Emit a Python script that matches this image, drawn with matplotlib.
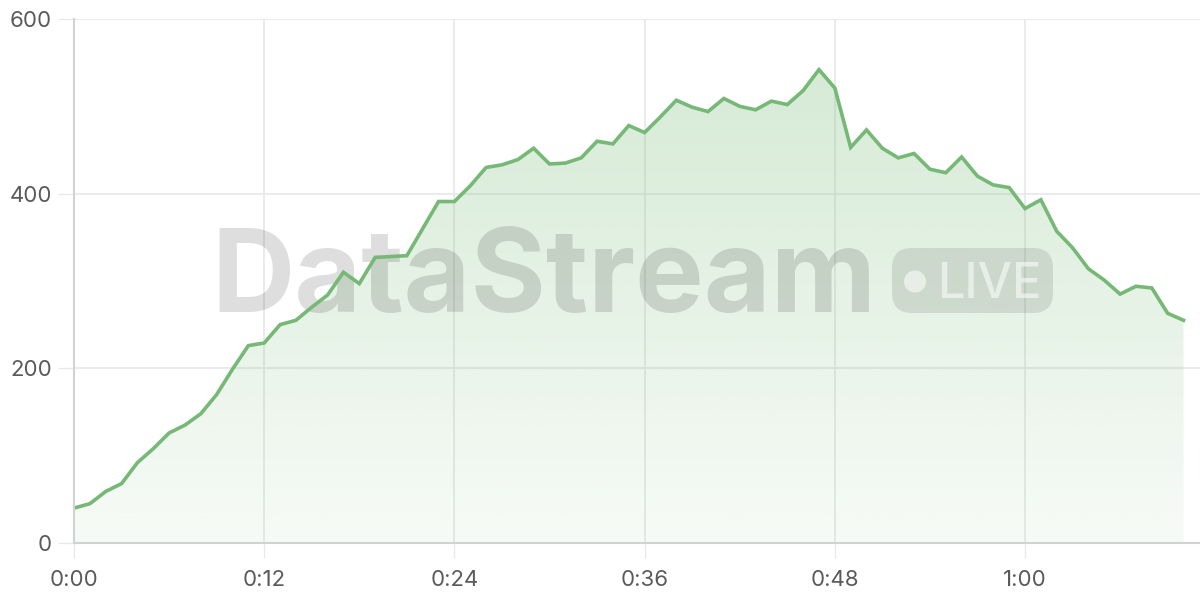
import matplotlib
matplotlib.use("Agg")
import matplotlib.pyplot as plt
import numpy as np
from matplotlib.patches import FancyBboxPatch, Circle, Polygon
from matplotlib.transforms import IdentityTransform
from matplotlib.ticker import FixedLocator

# ---- data (minutes since start, values) ----
minutes = list(range(0, 71))
values = [40, 45, 59, 68, 92, 108, 126, 135, 148, 170,
          199, 226, 229, 250, 255, 270, 284, 310, 297, 327,
          328, 329, 360, 391, 391, 409, 430, 433, 439, 452,
          434, 435, 441, 460, 457, 478, 470, 488, 507, 499,
          494, 509, 500, 496, 506, 502, 518, 542, 521, 453,
          473, 452, 441, 446, 428, 424, 442, 420, 410, 407,
          383, 393, 357, 338, 314, 301, 285, 294, 292, 263, 255]
x_ticks = [0, 12, 24, 36, 48, 60]
x_tick_labels = ["0:00", "0:12", "0:24", "0:36", "0:48", "1:00"]
y_ticks = [0, 200, 400, 600]
y_tick_labels = ["0", "200", "400", "600"]

LINE = "#76b876"
GRID = "#e8e8e8"
AXIS = "#d2d2d2"
LABEL = "#5a5a5a"

plt.rcParams['font.family'] = ['Inter', 'DejaVu Sans']

fig = plt.figure(figsize=(12, 6), dpi=100)
ax = fig.add_axes([74/1200, 57/600, 1 - 74/1200, (543-19)/600])
ax.set_xlim(0, 71.04)
ax.set_ylim(0, 600)

x = np.array(minutes, dtype=float)
y = np.array(values, dtype=float)

# gradient fill under curve
verts = [(x[0], 0)] + list(zip(x, y)) + [(x[-1], 0)]
poly = Polygon(verts, closed=True, facecolor='none', edgecolor='none')
ax.add_patch(poly)
n = 256
alpha = np.linspace(0.06, 0.32, n)[:, None]
rgba = np.zeros((n, 1, 4))
rgba[..., 0] = 116/255
rgba[..., 1] = 185/255
rgba[..., 2] = 116/255
rgba[..., 3] = alpha
im = ax.imshow(rgba, extent=[x[0], x[-1], 0, 600], origin='lower',
               aspect='auto', zorder=1, interpolation='bilinear')
im.set_clip_path(poly)

# grid
for yt in y_ticks[1:]:
    ax.axhline(yt, color=GRID, lw=1.2, zorder=0.5)
for xt in x_ticks[1:]:
    ax.axvline(xt, color=GRID, lw=1.2, zorder=0.5)

# watermark (pixel coords)
ident = IdentityTransform()
def py(yimg):
    return 600 - yimg
ax.text(211, py(312), "DataStream", transform=ident, fontsize=83,
        fontweight='bold', color=(0, 0, 0, 0.13), ha='left', va='baseline',
        zorder=2.5, clip_on=False)
badge = FancyBboxPatch((892 + 20, py(313) + 20), 161 - 40, 65 - 40,
                       boxstyle="round,pad=20", transform=ident,
                       facecolor=(0, 0, 0, 0.10), edgecolor='none', zorder=2.5,
                       clip_on=False)
ax.add_patch(badge)
ax.add_patch(Circle((915, py(281.5)), 11, transform=ident,
                    facecolor=(1, 1, 1, 0.55), edgecolor='none', zorder=2.6,
                    clip_on=False))
ax.text(937, py(298), "LIVE", transform=ident, fontsize=35,
        fontweight='medium', color=(1, 1, 1, 0.55), ha='left', va='baseline',
        zorder=2.6, clip_on=False)

# line
ax.plot(x, y, color=LINE, lw=2.6, zorder=3, solid_joinstyle='miter')

# axes styling
for s in ['top', 'right']:
    ax.spines[s].set_visible(False)
ax.spines['left'].set_color(AXIS)
ax.spines['bottom'].set_color(AXIS)
ax.spines['left'].set_linewidth(1.5)
ax.spines['bottom'].set_linewidth(1.5)
ax.spines['left'].set_zorder(4)
ax.spines['bottom'].set_zorder(4)

ax.xaxis.set_major_locator(FixedLocator(x_ticks))
ax.set_xticklabels(x_tick_labels)
ax.yaxis.set_major_locator(FixedLocator(y_ticks))
ax.set_yticklabels(y_tick_labels)
ax.tick_params(axis='x', length=10.8, width=0.9, color=GRID, pad=8.5,
               labelsize=16, labelcolor=LABEL)
ax.tick_params(axis='y', length=11.5, width=0.9, color=GRID, pad=4.3,
               labelsize=16, labelcolor=LABEL)

fig.savefig("out.png", dpi=100)
